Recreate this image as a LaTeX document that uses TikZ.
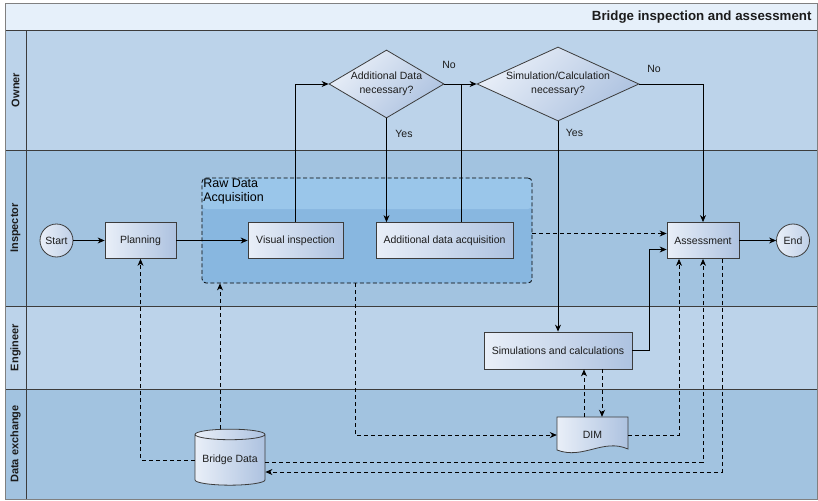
\documentclass[tikz,border=0pt]{standalone}
\usepackage{fontspec}
\setmainfont{Liberation Sans}
\usetikzlibrary{arrows.meta,shapes.geometric}

\definecolor{headfill}{HTML}{E6F0FA}
\definecolor{lanelight}{HTML}{BCD3EA}
\definecolor{lanedark}{HTML}{A2C3E0}
\definecolor{groupfill}{HTML}{88B7E0}
\definecolor{grouptop}{HTML}{9AC6EA}
\definecolor{boxl}{HTML}{E9EFF8}
\definecolor{boxr}{HTML}{ADC2E0}
\definecolor{edge}{HTML}{3C3C3C}
\definecolor{txt}{HTML}{1C1C1C}

\begin{document}
\begin{tikzpicture}[x=1pt,y=-1pt,
  every node/.style={text=txt,font=\fontsize{10.5}{13.5}\selectfont},
  proc/.style={draw=edge,line width=0.8pt,left color=boxl,right color=boxr,minimum height=36pt,inner sep=2pt},
  event/.style={circle,draw=edge,line width=0.8pt,left color=boxl,right color=boxr!70!boxl,minimum size=33pt,inner sep=0pt},
  decision/.style={diamond,draw=edge,line width=0.8pt,top color=boxl,bottom color=boxr,shading angle=45,inner sep=0pt,align=center},
  group/.style={draw=black,line width=0.8pt,dash pattern=on 4pt off 2.5pt,rounded corners=4pt,fill=groupfill,
    path picture={\fill[grouptop] ([yshift=-31pt]path picture bounding box.north west) rectangle (path picture bounding box.north east);}},
  lane/.style={draw=edge,line width=0.7pt},
  lanelabel/.style={rotate=90,font=\bfseries\fontsize{11}{13}\selectfont},
  flow/.style={draw=black,line width=0.8pt,-{Stealth[length=7pt,width=6pt]}},
  dflow/.style={flow,dash pattern=on 4pt off 3pt},
  tag/.style={inner sep=1pt}]

\useasboundingbox (0,0) rectangle (818,500);

\fill [headfill] (5,4) rectangle (817,30.5);

\fill [lanelight] (5,30.5) rectangle (817,150);

\fill [lanedark] (5,150) rectangle (817,306);

\fill [lanelight] (5,306) rectangle (817,389);

\fill [lanedark] (5,389) rectangle (817,499);

\foreach \y in {30.5,150,306,389} \draw [lane] (5,\y) -- (817,\y);

\draw [lane] (26,30.5) -- (26,499);

\draw [gray,line width=1pt] (5,4) rectangle (817,499);

\node [anchor=east,font=\bfseries\fontsize{13.3}{15}\selectfont] (title) at (815,17) {Bridge inspection and assessment};

\node [lanelabel] (owner) at (15.5,90) {Owner};
\node [lanelabel] (inspector) at (15.5,228) {Inspector};
\node [lanelabel] (engineer) at (15.5,347.5) {Engineer};
\node [lanelabel] (exchange) at (15.5,444) {Data exchange};

\node [group,minimum width=330pt,minimum height=105pt] (rawdata) at (367,230.5) {};
\node [anchor=north west,align=left,inner sep=1.5pt,text=black,font=\fontsize{12.5}{14}\selectfont] (rawlabel) at (rawdata.north west) {Raw Data\\Acquisition};

\node [event] (start) at (56.5,240.5) {Start};
\node [proc,minimum width=71pt] (planning) at (140.5,240.5) {Planning};
\node [proc,minimum width=95pt] (visual) at (295.5,240.5) {Visual inspection};
\node [proc,minimum width=137pt] (acquire) at (444.5,240.5) {Additional data acquisition};
\node [proc,minimum width=72pt] (assess) at (703,240.5) {Assessment};
\node [event] (end) at (793,240.5) {End};
\node [proc,minimum width=148pt,minimum height=37pt] (simulate) at (558,350.5) {Simulations and calculations};

\node [decision,minimum width=115pt,minimum height=68pt,aspect=1.7] (adddata) at (386.5,84) {Additional Data\\necessary?};
\node [decision,minimum width=162pt,minimum height=74pt,aspect=2.1] (simcalc) at (558,84) {Simulation/Calculation\\necessary?};

\node [cylinder,shape border rotate=90,aspect=0.19,draw=edge,line width=0.8pt,left color=boxl,right color=boxr,minimum width=70pt,minimum height=56pt,inner sep=0pt] (bridge) at (230,460) {Bridge Data};

\draw [edge,line width=0.8pt,left color=boxl,right color=boxr] (557,417) -- (628,417) -- (628,449) .. controls (603,438) and (583,460) .. (557,450) -- cycle;
\node [minimum width=71pt,minimum height=36pt,inner sep=0pt] (dim) at (592.5,435) {DIM};

\coordinate (join) at (461,84);

\draw [flow] (start) -- (planning);

\draw [flow] (planning) -- (visual);

\draw [flow] (visual.north) |- (adddata.west);

\draw [flow] (adddata.south) -- (adddata.south |- acquire.north);

\draw [flow] (adddata.east) -- (simcalc.west);

\draw [draw=black,line width=0.8pt] (acquire.north -| join) -- (join);

\draw [flow] (simcalc.east) -| (assess.north);

\draw [flow] (simcalc.south) -- (simulate.north);

\draw [flow] (simulate.east) -- ++(17,0) |- ([yshift=-9pt]assess.west);

\draw [flow] (assess) -- (end);

\draw [dflow] ([yshift=-3pt]rawdata.east) -- ([yshift=7pt]assess.west);

\draw [dflow] (bridge.west) -| (planning.south);

\draw [dflow] ([xshift=-10pt]bridge.north) -- ([xshift=-10pt]bridge.north |- rawdata.south);

\draw [dflow] ([xshift=-12pt]rawdata.south) |- (dim.west);

\draw [dflow] ([xshift=-8.5pt]dim.north) -- ([xshift=-8.5pt]dim.north |- simulate.south);

\draw [dflow] ([xshift=9.5pt]dim.north |- simulate.south) -- ([xshift=9.5pt]dim.north);

\draw [dflow] (dim.east) -| ([xshift=-24pt]assess.south);

\draw [dflow] ([yshift=-2pt]bridge.east) -| (assess.south);

\draw [dflow] ([xshift=19pt]assess.south) |- ([yshift=-12pt]bridge.east);

\node [tag] (no1) at (449,65) {No};
\node [tag] (yes1) at (404,134) {Yes};
\node [tag] (no2) at (654,69) {No};
\node [tag] (yes2) at (574.5,133) {Yes};

\end{tikzpicture}
\end{document}
